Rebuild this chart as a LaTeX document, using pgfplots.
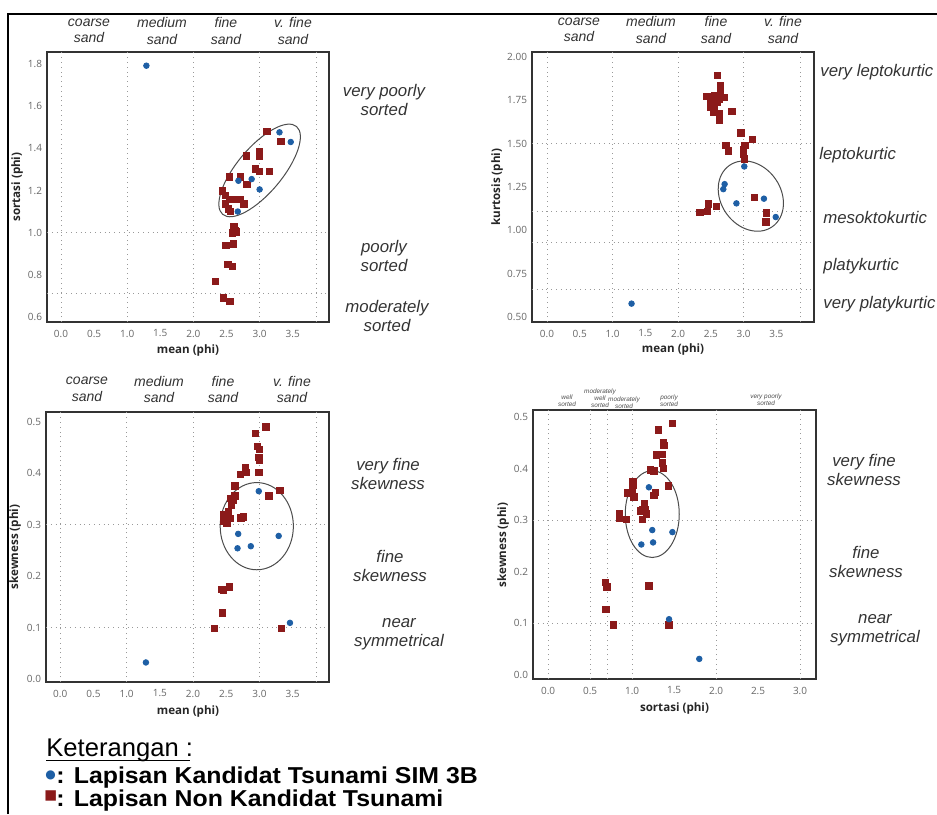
\documentclass[border=0pt]{standalone}
\usepackage{fontspec}
\setmainfont{Liberation Sans}
\newfontfamily\osans{Open Sans}
\newfontfamily\djv{DejaVu Sans}
\usepackage{graphicx}
\usepackage{pgfplots}
\pgfplotsset{compat=1.18}
\definecolor{tsblue}{HTML}{1E5FA5}
\definecolor{tsred}{HTML}{8B1A1A}
\definecolor{lbl}{HTML}{333333}

\pgfplotsset{
  panel/.style={
    scale only axis, width=141pt, height=135pt, anchor=south west,
    axis line style={draw=black!80, line width=0.9pt},
    major tick length=0pt, tick style={draw=none},
    tick label style={font=\osans\fontsize{5}{6}\selectfont, text=black!60, inner sep=0pt},
    xticklabel style={anchor=north, yshift=-3.7pt},
    yticklabel style={anchor=east, xshift=-2.3pt},
    /pgf/number format/assume math mode=true,
    /pgf/number format/fixed, /pgf/number format/fixed zerofill,
    /pgf/number format/precision=1,
    extra x tick labels={}, extra y tick labels={},
    extra x tick style={grid=major, major grid style={black!40, dotted, line width=0.45pt}},
    extra y tick style={grid=major, major grid style={black!40, dotted, line width=0.45pt}},
  },
  bdot/.style={only marks, mark=*, mark size=1.4pt, color=tsblue},
  rsq/.style={only marks, mark=square*, mark size=1.6pt, color=tsred},
}
\tikzset{ell/.style={draw=black!70, line width=0.5pt}}

\begin{document}
\begin{tikzpicture}
\useasboundingbox (0,0) rectangle (468.5pt,407pt);

% mean vs sortasi
\begin{axis}[panel, at={(23.5pt,246pt)},
  xmin=-0.211, xmax=4.048, ymin=0.576, ymax=1.857,
  xtick={0,0.5,1,1.5,2,2.5,3,3.5}, ytick={0.6,0.8,1.0,1.2,1.4,1.6,1.8},
  extra x ticks={0,1,2,3,3.86}, extra y ticks={0.71,1.0}]
\addplot[rsq] coordinates {(3.11,1.481) (3.32,1.432) (2.80,1.364) (3.00,1.383) (3.00,1.363)
  (2.94,1.302) (3.00,1.290) (3.15,1.290) (2.54,1.265) (2.71,1.265) (2.81,1.229) (2.44,1.198)
  (2.48,1.178) (2.54,1.158) (2.60,1.158) (2.71,1.158) (2.76,1.137) (2.48,1.137) (2.53,1.113)
  (2.56,1.100) (2.61,1.030) (2.62,1.015) (2.59,0.998) (2.65,1.004) (2.63,1.010) (2.49,0.938)
  (2.60,0.947) (2.52,0.850) (2.59,0.840) (2.33,0.769) (2.45,0.690) (2.55,0.674)};
\addplot[bdot] coordinates {(1.29,1.792) (3.30,1.476) (3.47,1.430) (2.68,1.246) (2.88,1.254)
  (3.00,1.205) (2.67,1.100)};
\draw[ell, rotate around={50:(axis cs:3.0,1.295)}] (axis cs:3.0,1.295) ellipse [x radius=28.7pt, y radius=11.3pt];
\end{axis}

% mean vs kurtosis
\begin{axis}[panel, at={(266pt,246pt)},
  xmin=-0.229, xmax=4.074, ymin=0.471, ymax=2.03,
  xtick={0,0.5,1,1.5,2,2.5,3,3.5}, ytick={0.5,0.75,1.0,1.25,1.5,1.75,2.0},
  yticklabel style={/pgf/number format/precision=2},
  extra x ticks={0,1,2,3,3.86}, extra y ticks={0.66,0.93,1.11,1.5}]
\addplot[rsq] coordinates {(2.60,1.894) (2.65,1.837) (2.65,1.800) (2.44,1.775) (2.56,1.779)
  (2.71,1.769) (2.49,1.740) (2.59,1.740) (2.62,1.760) (2.52,1.750) (2.49,1.711) (2.55,1.700)
  (2.54,1.683) (2.63,1.673) (2.63,1.639) (2.82,1.687) (2.96,1.564) (3.13,1.527) (2.73,1.490)
  (2.77,1.458) (3.02,1.490) (3.00,1.466) (3.00,1.439) (3.01,1.412) (3.16,1.189) (3.35,1.100)
  (3.34,1.050) (2.33,1.105) (2.45,1.111) (2.46,1.154) (2.58,1.138)};
\addplot[bdot] coordinates {(1.29,0.577) (3.01,1.369) (2.71,1.267) (2.69,1.238) (2.89,1.156)
  (3.31,1.183) (3.49,1.077)};
\draw[ell, rotate around={-55:(axis cs:3.11,1.198)}] (axis cs:3.11,1.198) ellipse [x radius=18.7pt, y radius=15pt];
\end{axis}

% mean vs skewness
\begin{axis}[panel, at={(23pt,66pt)}, width=141.5pt,
  xmin=-0.215, xmax=4.048, ymin=-0.006, ymax=0.519,
  xtick={0,0.5,1,1.5,2,2.5,3,3.5}, ytick={0,0.1,0.2,0.3,0.4,0.5},
  extra x ticks={0,1,2,3,3.86}, extra y ticks={0.1,0.3}]
\addplot[rsq] coordinates {(3.10,0.490) (2.94,0.477) (2.97,0.452) (3.00,0.446) (2.99,0.431)
  (3.00,0.425) (2.99,0.401) (2.79,0.411) (2.80,0.401) (2.71,0.398) (3.31,0.367) (3.14,0.356)
  (2.63,0.375) (2.63,0.356) (2.56,0.351) (2.61,0.348) (2.58,0.338) (2.53,0.325) (2.46,0.319)
  (2.51,0.315) (2.56,0.312) (2.46,0.306) (2.51,0.302) (2.72,0.313) (2.76,0.315) (2.55,0.179)
  (2.43,0.174) (2.46,0.173) (2.44,0.128) (2.32,0.098) (3.33,0.098)};
\addplot[bdot] coordinates {(1.29,0.032) (2.99,0.365) (2.68,0.282) (2.67,0.254) (2.87,0.258)
  (3.29,0.278) (3.46,0.109)};
\draw[ell] (axis cs:2.96,0.297) ellipse [x radius=18.3pt, y radius=21.8pt];
\end{axis}

% sortasi vs skewness
\begin{axis}[panel, at={(266.5pt,67.5pt)}, width=141.5pt, height=134.5pt,
  xmin=-0.18, xmax=3.19, ymin=-0.008, ymax=0.514,
  xtick={0,0.5,1,1.5,2,2.5,3}, ytick={0,0.1,0.2,0.3,0.4,0.5},
  extra x ticks={0,0.5,0.71,1,2,3}, extra y ticks={0.1,0.3}]
\addplot[rsq] coordinates {(1.48,0.488) (1.31,0.475) (1.37,0.451) (1.38,0.445) (1.29,0.427)
  (1.36,0.428) (1.36,0.411) (1.37,0.401) (1.22,0.398) (1.26,0.396) (1.43,0.367) (1.28,0.354)
  (1.26,0.348) (1.01,0.375) (1.01,0.369) (0.95,0.353) (1.00,0.354) (1.02,0.345) (1.15,0.333)
  (1.13,0.321) (1.16,0.321) (1.10,0.318) (1.17,0.312) (1.12,0.302) (0.85,0.312) (0.85,0.304)
  (0.93,0.302) (0.68,0.179) (0.70,0.171) (1.20,0.173) (0.69,0.127) (0.78,0.097) (1.44,0.097)};
\addplot[bdot] coordinates {(1.80,0.031) (1.20,0.364) (1.24,0.281) (1.25,0.257) (1.11,0.253)
  (1.48,0.277) (1.44,0.108)};
\draw[ell] (axis cs:1.24,0.312) ellipse [x radius=13.5pt, y radius=21.7pt];
\end{axis}

% texts, in pixel units of the reference
\begin{scope}[x=0.5pt, y=-0.5pt, shift={(0pt,407pt)},
  cat/.style={font=\itshape\fontsize{7}{8.3}\selectfont, text=lbl, align=center, inner sep=0pt},
  rl/.style={font=\itshape\fontsize{8.4}{9.5}\selectfont, text=lbl, align=center, inner sep=0pt},
  tn/.style={font=\itshape\fontsize{3.2}{3.6}\selectfont, text=black!70, align=center, inner sep=0pt},
  al/.style={font=\osans\bfseries\fontsize{5.8}{7}\selectfont, text=black!85, inner sep=0pt}]
\draw[line width=1pt] (8,814) -- (8,14) -- (937,14);

\node[cat] at (89,31) {coarse\\sand};
\node[cat] at (162,31) {medium\\sand};
\node[cat] at (226,31) {fine\\sand};
\node[cat] at (293,31) {v. fine\\sand};
\node[cat] at (579,30) {coarse\\sand};
\node[cat] at (651,30) {medium\\sand};
\node[cat] at (716,30) {fine\\sand};
\node[cat] at (783,30) {v. fine\\sand};
\node[cat] at (87,389.5) {coarse\\sand};
\node[cat] at (159,389.5) {medium\\sand};
\node[cat] at (223,389.5) {fine\\sand};
\node[cat] at (292,389.5) {v. fine\\sand};

\node[tn] at (567,401) {well\\sorted};
\node[tn] at (600,398.5) {moderately\\well\\sorted};
\node[tn] at (624,402.5) {moderately\\sorted};
\node[tn] at (669,400.5) {poorly\\sorted};
\node[tn] at (766,399.5) {very poorly\\sorted};

\node[rl] at (384,100) {very poorly\\sorted};
\node[rl] at (384,256) {poorly\\sorted};
\node[rl] at (387,316) {moderately\\sorted};
\node[rl, anchor=west] at (820,72) {very leptokurtic};
\node[rl, anchor=west] at (819,155) {leptokurtic};
\node[rl, anchor=west] at (823,218) {mesoktokurtic};
\node[rl, anchor=west] at (823,266) {platykurtic};
\node[rl, anchor=west] at (823,304) {very platykurtic};
\node[rl] at (388,474) {very fine\\skewness};
\node[rl] at (390,566) {fine\\skewness};
\node[rl] at (399,634) {near\\symmetrical};
\node[rl] at (864,470) {very fine\\skewness};
\node[rl] at (866,562) {fine\\skewness};
\node[rl] at (875,630) {near\\symmetrical};

\node[al] at (188,350) {mean (phi)};
\node[al, rotate=90] at (17,187) {sortasi (phi)};
\node[al] at (673,349) {mean (phi)};
\node[al, rotate=90] at (497,187) {kurtosis (phi)};
\node[al] at (188,711) {mean (phi)};
\node[al, rotate=90] at (15,547) {skewness (phi)};
\node[al] at (674.5,708) {sortasi (phi)};
\node[al, rotate=90] at (503,545) {skewness (phi)};

\node[anchor=base west, inner sep=0pt, font=\fontsize{12.8}{14}\selectfont] at (46,756.7) {Keterangan :};
\draw[line width=0.75pt] (46,760.5) -- (190,760.5);
\node[text=tsblue, inner sep=0pt, font=\djv\fontsize{6}{6}\selectfont] at (50.7,775) {●};
\node[anchor=base west, inner sep=0pt, font=\bfseries\fontsize{11.5}{13}\selectfont] at (56,783.3)
  {\scalebox{1.08}[1]{: Lapisan Kandidat Tsunami SIM 3B}};
\node[text=tsred, inner sep=0pt, font=\djv\fontsize{6.8}{6.8}\selectfont] at (50.7,795.7) {■};
\node[anchor=base west, inner sep=0pt, font=\bfseries\fontsize{11.5}{13}\selectfont] at (56,806.5)
  {\scalebox{1.08}[1]{: Lapisan Non Kandidat Tsunami}};
\end{scope}
\end{tikzpicture}
\end{document}
